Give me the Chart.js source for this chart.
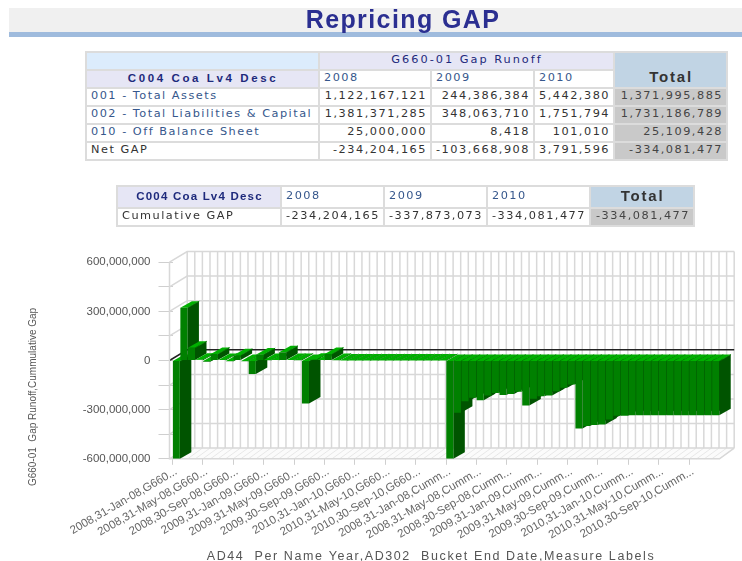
<!DOCTYPE html>
<html><head><meta charset="utf-8">
<script src="https://cdn.jsdelivr.net/npm/chart.js@4"></script>
<style>
html,body{margin:0;padding:0;background:#fff;width:742px;height:561px;overflow:hidden}
#wrap{position:relative;width:742px;height:561px;filter:blur(0.4px)}
#bar{position:absolute;left:9px;top:8px;width:733px;height:24px;background:#f0f0f0}
#rule{position:absolute;left:9px;top:32px;width:733px;height:5px;background:#9fbbdd}
#title{position:absolute;left:0;top:5px;width:806px;text-align:center;font:bold 25px "Liberation Sans",sans-serif;color:#2b2f91;letter-spacing:1.4px}
table{position:absolute;border-collapse:collapse;table-layout:fixed;font:11.3px "DejaVu Sans",sans-serif;letter-spacing:1.5px;color:#333;background:#fff}
td{border:2px solid #dcdcdc;padding:0 3px 3px 4px;white-space:nowrap;overflow:hidden;text-align:right;box-sizing:border-box}
td.l{text-align:left}
td.lnk{text-align:left;color:#36578c;letter-spacing:1.5px}
td.yr{text-align:left;color:#36578c}
td.hd{background:#e6e6f5;color:#1e2a7c;text-align:center;letter-spacing:2px}
td.hb{background:#e6e6f5;color:#1e2a7c;text-align:center;font-weight:bold;font-family:"Liberation Sans",sans-serif;font-size:11.5px;letter-spacing:2.6px}
td.blank{background:#dcecfc}
td.tot{background:#c1d4e4;font-weight:bold;text-align:center;font:bold 15px "Liberation Sans",sans-serif;color:#333;letter-spacing:1.8px}
td.sum{background:#c9c9c9;color:#444}
canvas{position:absolute;left:0;top:240px}
</style></head><body>
<div id="wrap">
<div id="bar"></div><div id="rule"></div><div id="title">Repricing GAP</div>
<table id="t1" style="left:85px;top:51px;width:641px"></table>
<table id="t2" style="left:116px;top:185px;width:577px"></table>
<canvas id="c" width="742" height="321" style="width:742px;height:321px"></canvas>
</div>
<script>
const years=["2008","2009","2010"];
const t1Rows=[
 ["001 - Total Assets","1,122,167,121","244,386,384","5,442,380","1,371,995,885"],
 ["002 - Total Liabilities & Capital","1,381,371,285","348,063,710","1,751,794","1,731,186,789"],
 ["010 - Off Balance Sheet","25,000,000","8,418","101,010","25,109,428"],
 ["Net GAP","-234,204,165","-103,668,908","3,791,596","-334,081,477"]];
const t2Row=["Cumulative GAP","-234,204,165","-337,873,073","-334,081,477","-334,081,477"];

const dates=["31-Jan-08","29-Feb-08","31-Mar-08","30-Apr-08","31-May-08","30-Jun-08","31-Jul-08","31-Aug-08","30-Sep-08","31-Oct-08","30-Nov-08","31-Dec-08",
"31-Jan-09","28-Feb-09","31-Mar-09","30-Apr-09","31-May-09","30-Jun-09","31-Jul-09","31-Aug-09","30-Sep-09","31-Oct-09","30-Nov-09","31-Dec-09",
"31-Jan-10","28-Feb-10","31-Mar-10","30-Apr-10","31-May-10","30-Jun-10","31-Jul-10","31-Aug-10","30-Sep-10","31-Oct-10","30-Nov-10","31-Dec-10"];
const gapRunoff=[-600000000,322000000,78000000,4000000,-8000000,40000000,3000000,-4000000,32000000,-4000000,-82000000,36000000,
2000000,3000000,50000000,3000000,2000000,-262000000,5000000,3000000,40000000,2000000,0,0,
0,0,0,0,0,0,0,0,0,0,0,0];
const cumulativeGap=[-600000000,-319000000,-248000000,-228000000,-242000000,-213000000,-199000000,-211000000,-205000000,-191000000,-275000000,-234000000,
-218000000,-213000000,-187000000,-167000000,-146000000,-415000000,-400000000,-394000000,-390000000,-360000000,-337900000,-337900000,
-334100000,-334100000,-334100000,-334100000,-334100000,-334100000,-334100000,-334100000,-334100000,-334100000,-334100000,-334100000];
const yTickLabels={"600000000":"600,000,000","300000000":"300,000,000","0":"0","-300000000":"-300,000,000","-600000000":"-600,000,000"};
const xTitle="AD44  Per Name Year,AD302  Bucket End Date,Measure Labels";
const yTitle="G660-01  Gap Runoff,Cummulative Gap";

/* tables */
function td(txt,cls,attrs){return `<td class="${cls||''}" ${attrs||''}>${String(txt).replace('&','&amp;')}</td>`}
document.getElementById('t1').innerHTML=
 `<colgroup><col style="width:233px"><col style="width:112px"><col style="width:103px"><col style="width:80px"><col style="width:113px"></colgroup>`+
 `<tr style="height:18px">${td('','blank')}${td('G660-01 Gap Runoff','hd','colspan=3')}${td('Total','tot','rowspan=2 style="vertical-align:bottom;padding-bottom:2px"')}</tr>`+
 `<tr style="height:17px">${td('C004 Coa Lv4 Desc','hb')}${years.map(y=>td(y,'yr')).join('')}</tr>`+
 t1Rows.map((r,i)=>`<tr style="height:18px">${td(r[0],i<3?'lnk':'l')}${td(r[1])}${td(r[2])}${td(r[3])}${td(r[4],'sum')}</tr>`).join('');
document.getElementById('t2').innerHTML=
 `<colgroup><col style="width:164px"><col style="width:103px"><col style="width:103px"><col style="width:103px"><col style="width:104px"></colgroup>`+
 `<tr style="height:20px">${td('C004 Coa Lv4 Desc','hb','style="letter-spacing:1.2px"')}${years.map(y=>td(y,'yr')).join('')}${td('Total','tot')}</tr>`+
 `<tr style="height:18px">${td(t2Row[0],'l')}${td(t2Row[1])}${td(t2Row[2])}${td(t2Row[3])}${td(t2Row[4],'sum')}</tr>`;

/* chart */
const categories=[...dates.map(d=>`20${d.slice(-2)},${d},G660-01 Gap Runoff`),...dates.map(d=>`20${d.slice(-2)},${d},Cummulative Gap`)];
const values=[...gapRunoff,...cumulativeGap];
const AREA={left:172.5,right:719.5,top:22.2,bottom:218.8};
const WALL={dx:14.7,dy:10.7,axisX:169.5,backLeft:187.2};
const BAR3D={dx:11.5,dy:6.5,side:'#005400',top:'#00b000',edge:'#007a00'};
const GRID='#d8d8d8';

const scene={id:'scene',
 beforeDatasetsDraw(chart){
  const c=chart.ctx,x=chart.scales.x,y=chart.scales.y,a=chart.chartArea,d=WALL;
  const n=categories.length,step=(x.getPixelForValue(1)-x.getPixelForValue(0));
  const edge=i=>x.getPixelForValue(0)-step/2+i*step;
  c.save();
  // floor
  c.fillStyle='#fbfbfb';
  c.beginPath();c.moveTo(d.axisX,a.bottom);c.lineTo(a.right,a.bottom);c.lineTo(a.right+d.dx,a.bottom-d.dy);c.lineTo(d.backLeft,a.bottom-d.dy);c.closePath();c.fill();
  c.lineWidth=.8;c.strokeStyle='#e2e2e2';
  for(let i=0;i<=n;i++){c.beginPath();c.moveTo(edge(i),a.bottom);c.lineTo(edge(i)+d.dx,a.bottom-d.dy);c.stroke();}
  // back wall verticals
  c.lineWidth=1.5;c.strokeStyle=GRID;
  for(let i=0;i<=n;i++){const X=edge(i)+d.dx;c.beginPath();c.moveTo(X,a.top-d.dy);c.lineTo(X,a.bottom-d.dy);c.stroke();}
  // horizontals + left wall slants
  y.ticks.forEach(t=>{const Y=y.getPixelForValue(t.value);
    c.strokeStyle=t.value===0?'#222':GRID;
    c.beginPath();c.moveTo(d.axisX,Y);c.lineTo(d.backLeft,Y-d.dy);c.lineTo(a.right+d.dx,Y-d.dy);c.stroke();});
  // left axis and front floor edge
  c.strokeStyle=GRID;
  c.beginPath();c.moveTo(d.axisX,a.top);c.lineTo(d.axisX,a.bottom);c.lineTo(a.right,a.bottom);c.lineTo(a.right+d.dx,a.bottom-d.dy);c.stroke();
  // bar sides and tops
  const meta=chart.getDatasetMeta(0),B=BAR3D;
  meta.data.forEach(el=>{
    const p=el.getProps(['x','y','base','width'],true),L=p.x-p.width/2,R=p.x+p.width/2,T=Math.min(p.y,p.base),Bo=Math.max(p.y,p.base);
    c.fillStyle=B.side;c.beginPath();c.moveTo(R,T);c.lineTo(R+B.dx,T-B.dy);c.lineTo(R+B.dx,Bo-B.dy);c.lineTo(R,Bo);c.closePath();c.fill();
    c.fillStyle=B.top;c.beginPath();c.moveTo(L,T);c.lineTo(L+B.dx,T-B.dy);c.lineTo(R+B.dx,T-B.dy);c.lineTo(R,T);c.closePath();c.fill();
    c.strokeStyle=B.edge;c.lineWidth=.9;c.beginPath();c.moveTo(R+.3,T);c.lineTo(R+B.dx+.3,T-B.dy);c.stroke();
  });
  c.restore();
 },
 afterDraw(chart){
  const c=chart.ctx;c.save();
  c.fillStyle='#555';c.textAlign='center';c.textBaseline='middle';
  c.font='12.5px "Liberation Sans",sans-serif';c.letterSpacing='1.6px';
  c.fillText(xTitle,431,317);
  c.font='10px "Liberation Sans",sans-serif';c.letterSpacing='0px';
  c.translate(33,157);c.rotate(-Math.PI/2);c.fillText(yTitle,0,0);
  c.restore();
 }};

new Chart(document.getElementById('c'),{
 type:'bar',
 data:{labels:categories,datasets:[{label:'Gap',data:values,backgroundColor:'#008000',borderWidth:0,barPercentage:.93,categoryPercentage:1}]},
 plugins:[scene],
 options:{responsive:false,animation:false,
  layout:{padding:{left:0,right:742-AREA.right,top:AREA.top,bottom:0}},
  plugins:{legend:{display:false},title:{display:false},tooltip:{enabled:false}},
  scales:{
   x:{offset:true,border:{display:false},
     grid:{drawOnChartArea:false,drawTicks:true,tickLength:6,lineWidth:1,offset:true,tickColor:ctx=>(ctx.index%4===0)?'#cfcfcf':'rgba(0,0,0,0)'},
     afterFit(s){s.height=321-AREA.bottom},
     ticks:{autoSkip:false,minRotation:30,maxRotation:30,padding:0,color:'#666',font:{family:'"Liberation Sans",sans-serif',size:11.5},
       callback(v,i){return i%4===0?this.getLabelForValue(v).slice(0,19)+'...':''}}},
   y:{min:-600000000,max:600000000,border:{display:false},
     grid:{drawOnChartArea:false,drawTicks:true,tickLength:14,tickColor:'#cfcfcf'},
     afterFit(s){s.width=AREA.left},
     ticks:{stepSize:150000000,autoSkip:false,padding:8,color:'#555',font:{family:'"Liberation Sans",sans-serif',size:11.5},
       callback(v){return yTickLabels[String(v)]||''}}}
  }}});
</script>
</body></html>
